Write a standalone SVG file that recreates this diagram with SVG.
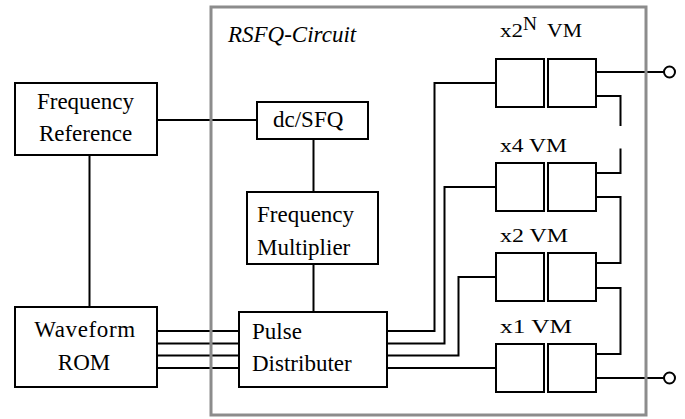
<svg xmlns="http://www.w3.org/2000/svg" width="685" height="419" viewBox="0 0 685 419">
<style>
  .box { fill: #ffffff; stroke: #000000; stroke-width: 2; }
  .wire { fill: none; stroke: #000000; stroke-width: 2; }
  .lbl { font-family: "Liberation Serif", "Times New Roman", serif; font-size: 23px; fill: #000000; }
  .mid { text-anchor: middle; }
  .vm { font-family: "Liberation Serif", "Times New Roman", serif; font-size: 19px; fill: #000000; }
  .frame { fill: none; stroke: #8c8c8c; stroke-width: 3; }
  .term { fill: #ffffff; stroke: #000000; stroke-width: 2; }
</style>
<rect width="685" height="419" fill="#ffffff"/>

<g id="connectors">
  <line class="wire" x1="157" y1="120" x2="257" y2="120"/>
  <line class="wire" x1="89.5" y1="155" x2="89.5" y2="307"/>
  <line class="wire" x1="313.5" y1="139" x2="313.5" y2="192"/>
  <line class="wire" x1="313.5" y1="264" x2="313.5" y2="312"/>
  <line class="wire" x1="157" y1="331" x2="239" y2="331"/>
  <line class="wire" x1="157" y1="343.5" x2="239" y2="343.5"/>
  <line class="wire" x1="157" y1="355.5" x2="239" y2="355.5"/>
  <line class="wire" x1="157" y1="368" x2="239" y2="368"/>
  <polyline class="wire" points="387,331 434.5,331 434.5,83 496,83"/>
  <polyline class="wire" points="387,343.5 444.5,343.5 444.5,187 496,187"/>
  <polyline class="wire" points="387,355.5 458.5,355.5 458.5,277 496,277"/>
  <line class="wire" x1="387" y1="368" x2="496" y2="368"/>
  <line class="wire" x1="596" y1="72" x2="664" y2="72"/>
  <polyline class="wire" points="596,96 620.5,96 620.5,126"/>
  <polyline class="wire" points="620.5,148.5 620.5,173 596,173"/>
  <polyline class="wire" points="596,197 620.5,197 620.5,263 596,263"/>
  <polyline class="wire" points="596,288 620.5,288 620.5,354 596,354"/>
  <line class="wire" x1="596" y1="378" x2="664" y2="378"/>
</g>

<g id="rsfq-circuit">
  <rect class="frame" x="211" y="7" width="435" height="408"/>
  <text class="lbl" x="228" y="42" font-style="italic" font-size="22">RSFQ-Circuit</text>
</g>

<g id="frequency-reference">
  <rect class="box" x="15" y="83" width="142" height="72"/>
  <text class="lbl mid" x="85.5" y="109">Frequency</text>
  <text class="lbl mid" x="85.5" y="141">Reference</text>
</g>

<g id="waveform-rom">
  <rect class="box" x="15" y="307" width="142" height="80"/>
  <text class="lbl mid" x="85" y="337" letter-spacing="0.6">Waveform</text>
  <text class="lbl mid" x="84" y="370">ROM</text>
</g>

<g id="dc-sfq">
  <rect class="box" x="257" y="102" width="111" height="37"/>
  <text class="lbl" x="273" y="127">dc/SFQ</text>
</g>

<g id="frequency-multiplier">
  <rect class="box" x="247" y="192" width="131" height="72"/>
  <text class="lbl" x="257" y="222">Frequency</text>
  <text class="lbl" x="257" y="255">Multiplier</text>
</g>

<g id="pulse-distributer">
  <rect class="box" x="239" y="312" width="148" height="75"/>
  <text class="lbl" x="252" y="339">Pulse</text>
  <text class="lbl" x="252" y="371">Distributer</text>
</g>

<g id="vm-x2n">
  <rect class="box" x="496" y="59" width="48" height="48"/>
  <rect class="box" x="548" y="59" width="48" height="48"/>
  <text class="vm" x="500" y="37" textLength="23" lengthAdjust="spacingAndGlyphs">x2</text>
  <text class="vm" x="523" y="30" font-size="12" textLength="14" lengthAdjust="spacingAndGlyphs">N</text>
  <text class="vm" x="547" y="37" textLength="35" lengthAdjust="spacingAndGlyphs">VM</text>
</g>

<g id="vm-x4">
  <rect class="box" x="496" y="163" width="48" height="48"/>
  <rect class="box" x="548" y="163" width="48" height="48"/>
  <text class="vm" x="500" y="152" textLength="67" lengthAdjust="spacingAndGlyphs">x4 VM</text>
</g>

<g id="vm-x2">
  <rect class="box" x="496" y="253" width="48" height="48"/>
  <rect class="box" x="548" y="253" width="48" height="48"/>
  <text class="vm" x="500" y="242" textLength="68" lengthAdjust="spacingAndGlyphs">x2 VM</text>
</g>

<g id="vm-x1">
  <rect class="box" x="496" y="344" width="48" height="48"/>
  <rect class="box" x="548" y="344" width="48" height="48"/>
  <text class="vm" x="500" y="333" textLength="72" lengthAdjust="spacingAndGlyphs">x1 VM</text>
</g>

<g id="output-top">
  <circle class="term" cx="669.5" cy="72" r="5.5"/>
</g>
<g id="output-bottom">
  <circle class="term" cx="669.5" cy="378" r="5.5"/>
</g>
</svg>
